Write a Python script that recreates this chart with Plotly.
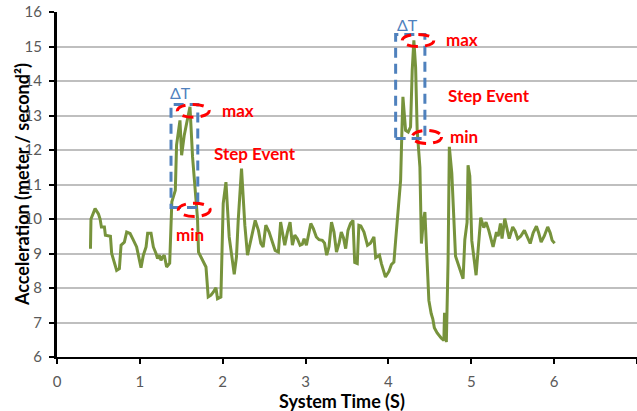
import plotly.graph_objects as go

# Accelerometer magnitude over time (seconds, m/s^2)
time_s = [
    0.404, 0.41, 0.46, 0.50, 0.52, 0.536, 0.572, 0.584, 0.645, 0.66,
    0.72, 0.753, 0.773, 0.813, 0.841, 0.882, 0.913, 0.961, 1.014, 1.042,
    1.075, 1.094, 1.135, 1.163, 1.195, 1.214, 1.235, 1.255, 1.275, 1.295,
    1.323, 1.36, 1.386, 1.428, 1.443, 1.484, 1.504, 1.536, 1.564, 1.605,
    1.636, 1.663, 1.696, 1.708, 1.798, 1.825, 1.858, 1.886, 1.918, 1.937,
    1.978, 2.006, 2.039, 2.078, 2.139, 2.166, 2.187, 2.227, 2.267, 2.299,
    2.34, 2.392, 2.431, 2.46, 2.488, 2.52, 2.56, 2.588, 2.633, 2.672,
    2.699, 2.723, 2.749, 2.781, 2.813, 2.841, 2.87, 2.901, 2.934, 2.961,
    2.982, 3.01, 3.034, 3.063, 3.094, 3.13, 3.163, 3.202, 3.229, 3.255,
    3.283, 3.313, 3.343, 3.373, 3.404, 3.431, 3.458, 3.484, 3.512, 3.542,
    3.572, 3.593, 3.624, 3.643, 3.667, 3.705, 3.747, 3.783, 3.825, 3.846,
    3.892, 3.916, 3.964, 4.006, 4.036, 4.066, 4.087, 4.108, 4.147, 4.163,
    4.175, 4.207, 4.239, 4.267, 4.287, 4.307, 4.328, 4.347, 4.38, 4.398,
    4.422, 4.44, 4.464, 4.488, 4.516, 4.536, 4.554, 4.588, 4.636, 4.669,
    4.677, 4.699, 4.72, 4.735, 4.765, 4.81, 4.901, 4.922, 4.949, 4.961,
    4.982, 5.006, 5.058, 5.09, 5.114, 5.151, 5.178, 5.211, 5.241, 5.263,
    5.304, 5.325, 5.352, 5.371, 5.404, 5.428, 5.458, 5.5, 5.53, 5.56,
    5.596, 5.641, 5.675, 5.711, 5.747, 5.786, 5.813, 5.843, 5.88, 5.922,
    5.952, 5.976, 6.006,
]
accel = [
    9.14, 10.0, 10.3, 10.15, 10.0, 9.77, 9.77, 9.53, 9.5, 9.0,
    8.51, 8.56, 9.24, 9.33, 9.62, 9.58, 9.43, 9.19, 8.59, 8.95,
    9.19, 9.59, 9.59, 9.19, 9.0, 8.85, 8.95, 8.8, 8.9, 8.95,
    8.61, 8.72, 10.5, 10.83, 12.14, 12.86, 11.85, 12.43, 12.77, 13.25,
    11.8, 10.9, 10.0, 9.04, 8.61, 7.74, 7.79, 7.88, 8.01, 7.69,
    7.74, 10.45, 11.07, 9.48, 8.4, 8.9, 9.96, 11.46, 9.82, 8.95,
    9.38, 9.96, 9.67, 9.29, 9.19, 9.82, 9.62, 9.43, 9.09, 9.04,
    9.91, 9.58, 9.24, 9.62, 9.91, 9.24, 9.53, 9.43, 9.24, 9.27,
    9.43, 9.24, 9.53, 9.87, 9.72, 9.48, 9.4, 9.38, 9.3, 8.95,
    9.2, 9.91, 9.62, 9.04, 9.29, 9.62, 9.45, 9.14, 9.67, 9.87,
    9.96, 8.74, 8.71, 9.82, 9.8, 9.62, 9.24, 9.3, 9.48, 8.88,
    8.95, 8.7, 8.32, 8.48, 8.68, 8.75, 9.38, 10.06, 11.12, 12.57,
    13.54, 12.57, 12.52, 12.67, 14.31, 15.18, 14.4, 12.57, 11.5, 9.29,
    9.96, 10.2, 8.7, 7.64, 7.26, 7.1, 6.85, 6.7, 6.55, 6.48,
    7.28, 6.43, 8.8, 12.09, 11.32, 8.92, 8.27, 9.4, 9.9, 11.56,
    11.25, 9.38, 8.37, 9.4, 10.04, 9.75, 9.91, 9.67, 9.35, 9.19,
    9.62, 9.5, 9.87, 9.43, 10.01, 9.75, 9.43, 9.77, 9.65, 9.43,
    9.5, 9.67, 9.5, 9.29, 9.6, 9.79, 9.6, 9.33, 9.5, 9.77,
    9.6, 9.38, 9.3,
]

x_ticks = [0, 1, 2, 3, 4, 5, 6, 7]
y_ticks = [6, 7, 8, 9, 10, 11, 12, 13, 14, 15, 16]

# Step event windows: (t_start, t_end, a_low, a_high)
event_windows = [(1.376, 1.699, 10.33, 13.32), (4.087, 4.44, 12.33, 15.35)]
# Peak / trough markers: (t0, t1, a0, a1)
max_marks = [(1.452, 1.837, 12.95, 13.32), (4.166, 4.548, 15.0, 15.35)]
min_marks = [(1.464, 1.849, 10.07, 10.46), (4.287, 4.641, 12.19, 12.57)]

FONT = "Lato"
BLUE = "#4F81BD"
RED = "#FF0000"

fig = go.Figure()
fig.add_trace(go.Scatter(
    x=time_s, y=accel, mode="lines",
    line=dict(color="#77933C", width=3),
    showlegend=False, hoverinfo="skip",
))

shapes = []
for t0, t1, a0, a1 in event_windows:
    shapes.append(dict(type="rect", xref="x", yref="y", x0=t0, x1=t1, y0=a0, y1=a1,
                       line=dict(color=BLUE, width=3, dash="10px,6px")))
for t0, t1, a0, a1 in max_marks + min_marks:
    shapes.append(dict(type="circle", xref="x", yref="y", x0=t0, x1=t1, y0=a0, y1=a1,
                       line=dict(color=RED, width=3, dash="11px,7px")))

annotations = []
label_font = dict(family=FONT, size=17, color=RED)
for txt, x, y in [("max", 2.187, 13.15), ("Step Event", 2.386, 11.9), ("min", 1.602, 9.56),
                  ("max", 4.886, 15.2), ("Step Event", 5.217, 13.59), ("min", 4.91, 12.4)]:
    annotations.append(dict(text=f"<b>{txt}</b>", x=x, y=y, xref="x", yref="y",
                            xanchor="center", yanchor="middle",
                            showarrow=False, font=label_font))
for x, y in [(1.496, 13.68), (4.227, 15.64)]:
    annotations.append(dict(text="ΔT", x=x, y=y, xref="x", yref="y", showarrow=False,
                            xanchor="center", yanchor="middle",
                            font=dict(family=FONT, size=16, color=BLUE)))

W, H = 637, 411
L, R, T, B = 57, 0, 12, 54
pw, ph = W - L - R, H - T - B


def paper_x(px):
    return (px - L) / pw


def paper_y(py):
    return 1 - (py - T) / ph


# Axis titles, placed by pixel position
annotations.append(dict(text="<b>Acceleration (meter / second²)</b>", textangle=-90,
                        x=paper_x(22), y=paper_y(185), xref="paper", yref="paper",
                        xanchor="center", yanchor="middle", showarrow=False,
                        font=dict(family=FONT, size=18, color="#000000")))
annotations.append(dict(text="<b>System Time (S)</b>", x=paper_x(342), y=paper_y(401),
                        xref="paper", yref="paper", xanchor="center", yanchor="middle",
                        showarrow=False,
                        font=dict(family=FONT, size=18, color="#000000")))

fig.update_layout(
    width=W, height=H,
    margin=dict(l=L, r=R, t=T, b=B),
    paper_bgcolor="white", plot_bgcolor="white",
    shapes=shapes, annotations=annotations,
    font=dict(family=FONT, size=15, color="#595959"),
    xaxis=dict(range=[0, 7], tickvals=x_ticks, showgrid=False, zeroline=False,
               showline=True, linecolor="#000000", linewidth=2,
               ticks="outside", ticklen=5, tickwidth=2, tickcolor="#000000",
               ticklabelstandoff=5,
               tickfont=dict(family=FONT, size=15, color="#595959")),
    yaxis=dict(range=[6, 16], tickvals=y_ticks, showgrid=True, gridcolor="#BFBFBF",
               gridwidth=1.5, zeroline=False,
               showline=True, linecolor="#000000", linewidth=3,
               ticks="outside", ticklen=5, tickwidth=2, tickcolor="#000000",
               ticklabelstandoff=4,
               tickfont=dict(family=FONT, size=15, color="#595959")),
)

fig.write_html("out.html")
